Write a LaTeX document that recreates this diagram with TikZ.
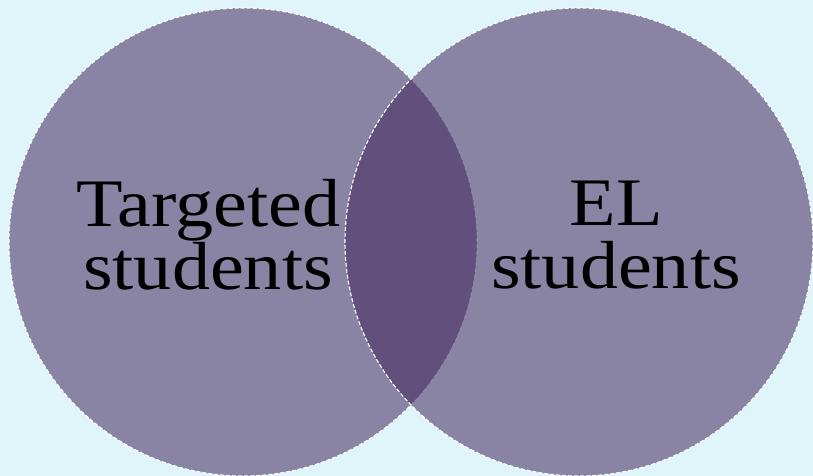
\documentclass[tikz,border=0pt]{standalone}
\usepackage{fontspec}
\setmainfont{Liberation Serif}[FakeStretch=1.12]
\definecolor{bgcyan}{RGB}{223,245,250}
\definecolor{setgray}{RGB}{138,132,164}
\definecolor{lensviolet}{RGB}{97,79,124}
\begin{document}
\begin{tikzpicture}[x=1pt,y=-1pt,
  setedge/.style={draw=white,line width=1.1pt,dash pattern=on 4pt off 2pt},
  setlabel/.style={align=center,text=black,inner sep=0pt,
    font=\fontsize{68}{63}\selectfont}]
\fill[bgcyan] (0,0) rectangle (813,476);
\useasboundingbox (0,0) rectangle (813,476);
\coordinate (lc) at (243,242);
\coordinate (rc) at (579,242);
% the two sets
\fill[setgray] (lc) circle[radius=234pt];
\draw[setedge] (lc) circle[radius=234pt];
\fill[setgray] (rc) circle[radius=234pt];
% overlap
\begin{scope}
\clip (lc) circle[radius=234pt];
\fill[lensviolet] (rc) circle[radius=234pt];
\end{scope}
\begin{scope}
\clip (rc) circle[radius=234pt];
\draw[setedge,opacity=0.15] (lc) circle[radius=234pt];
\end{scope}
\draw[setedge] (rc) circle[radius=234pt];
% labels
\node[setlabel] (targeted) at (208,235) {Targeted\\students};
\node[setlabel] (el) at (616,235) {EL\\students};
\end{tikzpicture}
\end{document}
